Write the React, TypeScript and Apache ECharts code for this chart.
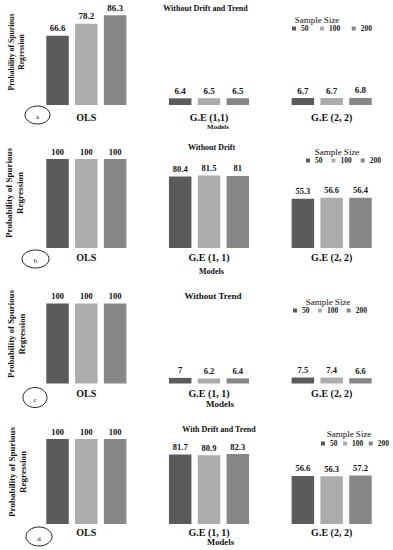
import React, { useEffect, useRef } from "react";
import * as echarts from "echarts";

// ---- data ----
const sampleSizes = ["50", "100", "200"];
const categoriesA = ["OLS", "G.E (1,1)", "G.E (2, 2)"];
const categoriesBCD = ["OLS", "G.E (1, 1)", "G.E (2, 2)"];
const panelTitles = ["Without Drift and Trend", "Without Drift", "Without Trend", "With Drift and Trend"];
const panelTags = ["a", "b", "c", "d"];
const yAxisTitle = "Probability of Spurious\nRegression";
const xAxisTitle = "Models";
const legendTitle = "Sample Size";

const panelA_n50 = [66.6, 6.4, 6.7];
const panelA_n100 = [78.2, 6.5, 6.7];
const panelA_n200 = [86.3, 6.5, 6.8];

const panelB_n50 = [100, 80.4, 55.3];
const panelB_n100 = [100, 81.5, 56.6];
const panelB_n200 = [100, 81, 56.4];

const panelC_n50 = [100, 7, 7.5];
const panelC_n100 = [100, 6.2, 7.4];
const panelC_n200 = [100, 6.4, 6.6];

const panelD_n50 = [100, 81.7, 56.6];
const panelD_n100 = [100, 80.9, 56.3];
const panelD_n200 = [100, 82.3, 57.2];

const panelCategories = [categoriesA, categoriesBCD, categoriesBCD, categoriesBCD];
const panelValues = [
  [panelA_n50, panelA_n100, panelA_n200],
  [panelB_n50, panelB_n100, panelB_n200],
  [panelC_n50, panelC_n100, panelC_n200],
  [panelD_n50, panelD_n100, panelD_n200],
];

// ---- styles / layout ----
const SERIF = '"Liberation Serif", "Times New Roman", serif';
const barColors = ["#5b5b5b", "#acacac", "#878787"];
const TEXT = "#111";

const layouts = [
  {
    top: 1, height: 104, catMargin: 7, valFont: 9,
    title: { x: 205.5, y: 8, size: 8 },
    ss: { x: 317, y: 20 },
    legend: { x: 292, y: 29, gap: 11.5 },
    ylab: { x: 16.5, y: 52, size: 7.7 },
    circle: { cx: 37.5, cy: 115, rx: 12.5, ry: 9 },
    models: { x: 218, y: 127, size: 7 },
  },
  {
    top: 159, height: 89, catMargin: 4, valFont: 8.5,
    title: { x: 211.5, y: 147, size: 8 },
    ss: { x: 337, y: 152 },
    legend: { x: 306, y: 161, gap: 9 },
    ylab: { x: 14.8, y: 193, size: 9 },
    circle: { cx: 35.5, cy: 259, rx: 13.5, ry: 9 },
    models: { x: 211.5, y: 271, size: 8 },
  },
  {
    top: 303.5, height: 80, catMargin: 4.5, valFont: 8.5,
    title: { x: 213, y: 296, size: 9 },
    ss: { x: 328, y: 301.5 },
    legend: { x: 293, y: 311, gap: 8.5 },
    ylab: { x: 16.5, y: 334, size: 8.8 },
    circle: { cx: 35, cy: 397.5, rx: 12, ry: 10 },
    models: { x: 220, y: 403.5, size: 9 },
  },
  {
    top: 439, height: 85, catMargin: 3, valFont: 8.5,
    title: { x: 219, y: 429, size: 8 },
    ss: { x: 349, y: 433.5 },
    legend: { x: 321, y: 444, gap: 5.5 },
    ylab: { x: 17.5, y: 472, size: 9 },
    circle: { cx: 39, cy: 536.5, rx: 13, ry: 9.5 },
    models: { x: 220.5, y: 542, size: 8.7 },
  },
];

function txt(text: string, x: number, y: number, size: number, bold: boolean, extra: any = {}) {
  return {
    type: "text",
    x,
    y,
    ...extra,
    style: {
      text,
      fontFamily: SERIF,
      fontSize: size,
      fontWeight: bold ? "bold" : "normal",
      fill: TEXT,
      align: "center",
      verticalAlign: "middle",
      textAlign: "center",
      textVerticalAlign: "middle",
      lineHeight: size * 1.2,
    },
  };
}

function buildOption() {
  const grid: any[] = [];
  const xAxis: any[] = [];
  const yAxis: any[] = [];
  const series: any[] = [];
  const legend: any[] = [];
  const graphic: any[] = [];

  layouts.forEach((L, p) => {
    grid.push({ left: 25, width: 388.5, top: L.top, height: L.height });
    xAxis.push({
      type: "category",
      gridIndex: p,
      data: panelCategories[p],
      axisLine: { show: false },
      axisTick: { show: false },
      axisLabel: {
        margin: L.catMargin,
        fontFamily: SERIF,
        fontWeight: "bold",
        fontSize: 10,
        color: TEXT,
      },
    });
    yAxis.push({
      type: "value",
      gridIndex: p,
      min: 0,
      max: 100,
      show: false,
      splitLine: { show: false },
    });
    sampleSizes.forEach((s, j) => {
      series.push({
        type: "bar",
        name: s,
        xAxisIndex: p,
        yAxisIndex: p,
        data: panelValues[p][j],
        barWidth: 22.5,
        barGap: "28%",
        itemStyle: { color: barColors[j] },
        label: {
          show: true,
          position: "top",
          distance: 3,
          fontFamily: SERIF,
          fontWeight: "bold",
          fontSize: L.valFont,
          color: TEXT,
        },
      });
    });
    legend.push({
      data: sampleSizes,
      orient: "horizontal",
      left: L.legend.x,
      top: L.legend.y - 4.5,
      width: 130,
      padding: 0,
      icon: "rect",
      itemWidth: 4,
      itemHeight: 4,
      itemGap: L.legend.gap,
      selectedMode: false,
      formatter: "{t|{name}}",
      textStyle: {
        fontFamily: SERIF,
        fontSize: 7.5,
        fontWeight: "bold",
        color: "#222",
        rich: {
          t: { fontFamily: SERIF, fontSize: 7.5, fontWeight: "bold", color: "#222" },
        },
      },
    });
    graphic.push(txt(panelTitles[p], L.title.x, L.title.y, L.title.size, true));
    graphic.push(txt(legendTitle, L.ss.x, L.ss.y, 9, false));
    graphic.push(txt(xAxisTitle, L.models.x, L.models.y, L.models.size, true));
    graphic.push(txt(yAxisTitle, L.ylab.x, L.ylab.y, L.ylab.size, true, { rotation: Math.PI / 2 }));
    graphic.push({
      type: "ellipse",
      shape: { cx: L.circle.cx, cy: L.circle.cy, rx: L.circle.rx, ry: L.circle.ry },
      style: { fill: "none", stroke: "#222", lineWidth: 1 },
    });
    graphic.push(txt(panelTags[p], L.circle.cx, L.circle.cy + 2, 7, false));
  });

  return {
    animation: false,
    backgroundColor: "#ffffff",
    grid,
    xAxis,
    yAxis,
    series,
    legend,
    graphic,
  };
}

export default function App() {
  const ref = useRef<HTMLDivElement>(null);
  useEffect(() => {
    if (!ref.current) return;
    const chart = echarts.init(ref.current, null, { renderer: "svg" });
    chart.setOption(buildOption() as any);
    return () => chart.dispose();
  }, []);
  return (
    <div
      ref={ref}
      style={{ position: "fixed", left: 0, top: 0, width: 393, height: 550, background: "#fff" }}
    />
  );
}
